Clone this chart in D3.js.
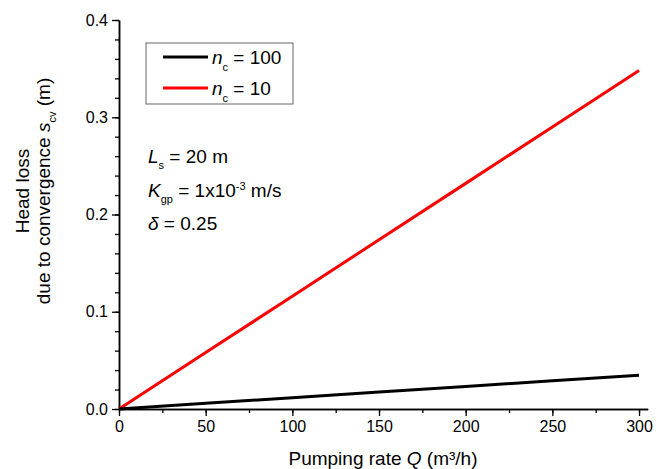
<!DOCTYPE html>
<html>
<head>
<meta charset="utf-8">
<script src="https://cdn.jsdelivr.net/npm/d3@7"></script>
<style>
  body { margin: 0; background: #fff; }
  svg text { font-family: Arial, "Liberation Sans", sans-serif; fill: #000; }
</style>
</head>
<body>
<div id="plot"></div>
<script>
// data
var pumpingQ = [0, 50, 100, 150, 200, 250, 300];
var sNc100 = [0, 0.0058, 0.0116, 0.0174, 0.0232, 0.029, 0.0348];
var sNc10 = [0, 0.058, 0.116, 0.174, 0.232, 0.290, 0.348];
var xTicks = [0, 50, 100, 150, 200, 250, 300];
var yTicks = [0, 0.1, 0.2, 0.3, 0.4];

var width = 664, height = 469;

var svg = d3.select('#plot').append('svg')
  .attr('width', width)
  .attr('height', height);

var x = d3.scaleLinear().domain([0, 305]).range([119, 647.7]);
var y = d3.scaleLinear().domain([0, 0.4]).range([409, 20]);

// minor ticks every 25 / 0.02
var xMinor = d3.range(0, 301, 25);
var yMinor = d3.range(0, 0.401, 0.02);

var xMinorG = svg.append('g').attr('transform', 'translate(0,' + y(0) + ')')
  .call(d3.axisBottom(x).tickValues(xMinor).tickSize(4).tickSizeOuter(0).tickFormat(''));
var xAxisG = svg.append('g').attr('transform', 'translate(0,' + y(0) + ')')
  .call(d3.axisBottom(x).tickValues(xTicks).tickSize(7).tickSizeOuter(0).tickPadding(5).tickFormat(d3.format('d')));

var yMinorG = svg.append('g').attr('transform', 'translate(' + x(0) + ',0)')
  .call(d3.axisLeft(y).tickValues(yMinor).tickSize(4).tickSizeOuter(0).tickFormat(''));
var yAxisG = svg.append('g').attr('transform', 'translate(' + x(0) + ',0)')
  .call(d3.axisLeft(y).tickValues(yTicks).tickSize(7).tickSizeOuter(0).tickPadding(4).tickFormat(d3.format('.1f')));

[xMinorG, xAxisG, yMinorG, yAxisG].forEach(function(g) {
  g.attr('font-size', 16).attr('font-family', 'Arial, "Liberation Sans", sans-serif');
  g.selectAll('.domain').attr('stroke', '#000').attr('stroke-width', 1.5);
  g.selectAll('.tick line').attr('stroke', '#000').attr('stroke-width', 1.3);
  g.selectAll('.tick text').attr('fill', '#000').attr('font-size', 16);
});

// lines
var line = d3.line()
  .x(function(d, i) { return x(pumpingQ[i]); })
  .y(function(d) { return y(d); });

svg.append('path').datum(sNc10)
  .attr('d', line)
  .attr('fill', 'none')
  .attr('stroke', '#ff0000')
  .attr('stroke-width', 3);

svg.append('path').datum(sNc100)
  .attr('d', line)
  .attr('fill', 'none')
  .attr('stroke', '#000')
  .attr('stroke-width', 3);

// legend
var legend = svg.append('g');
legend.append('rect')
  .attr('x', 146).attr('y', 43).attr('width', 147).attr('height', 61)
  .attr('fill', '#fff').attr('stroke', '#666').attr('stroke-width', 1);

var legendItems = [
  { label: '100', color: '#000', y: 57 },
  { label: '10', color: '#ff0000', y: 88 }
];
legendItems.forEach(function(d) {
  legend.append('line')
    .attr('x1', 163).attr('x2', 208)
    .attr('y1', d.y).attr('y2', d.y)
    .attr('stroke', d.color).attr('stroke-width', 3);
  var t = legend.append('text')
    .attr('x', 212).attr('y', d.y + 7)
    .attr('font-size', 19);
  t.append('tspan').attr('font-style', 'italic').text('n');
  t.append('tspan').attr('dy', 7).attr('font-size', 11).text('c');
  t.append('tspan').attr('dy', -7).text(' = ' + d.label);
});

// annotations
var a1 = svg.append('text').attr('x', 148).attr('y', 163).attr('font-size', 19);
a1.append('tspan').attr('font-style', 'italic').text('L');
a1.append('tspan').attr('dy', 6).attr('font-size', 11).text('s');
a1.append('tspan').attr('dy', -6).text(' = 20 m');

var a2 = svg.append('text').attr('x', 148).attr('y', 197).attr('font-size', 19);
a2.append('tspan').attr('font-style', 'italic').text('K');
a2.append('tspan').attr('dy', 6).attr('font-size', 11).text('gp');
a2.append('tspan').attr('dy', -6).text(' = 1x10');
a2.append('tspan').attr('dy', -7).attr('font-size', 11).text('-3');
a2.append('tspan').attr('dy', 7).text(' m/s');

var a3 = svg.append('text').attr('x', 148).attr('y', 230).attr('font-size', 19);
a3.append('tspan').attr('font-style', 'italic').text('\u03b4');
a3.append('tspan').text(' = 0.25');

// axis titles
var xt = svg.append('text')
  .attr('x', 383).attr('y', 465)
  .attr('text-anchor', 'middle')
  .attr('font-size', 19);
xt.append('tspan').text('Pumping rate ');
xt.append('tspan').attr('font-style', 'italic').text('Q');
xt.append('tspan').text(' (m\u00b3/h)');

var yt = svg.append('g').attr('transform', 'translate(0,191) rotate(-90)');
yt.append('text')
  .attr('x', 0).attr('y', 29)
  .attr('text-anchor', 'middle')
  .attr('font-size', 19)
  .text('Head loss');
var yt2 = yt.append('text')
  .attr('x', 0).attr('y', 50)
  .attr('text-anchor', 'middle')
  .attr('font-size', 19);
yt2.append('tspan').text('due to convergence ');
yt2.append('tspan').attr('font-style', 'italic').text('s');
yt2.append('tspan').attr('dy', 6).attr('font-size', 11).text('cv');
yt2.append('tspan').attr('dy', -6).text(' (m)');
</script>
</body>
</html>
